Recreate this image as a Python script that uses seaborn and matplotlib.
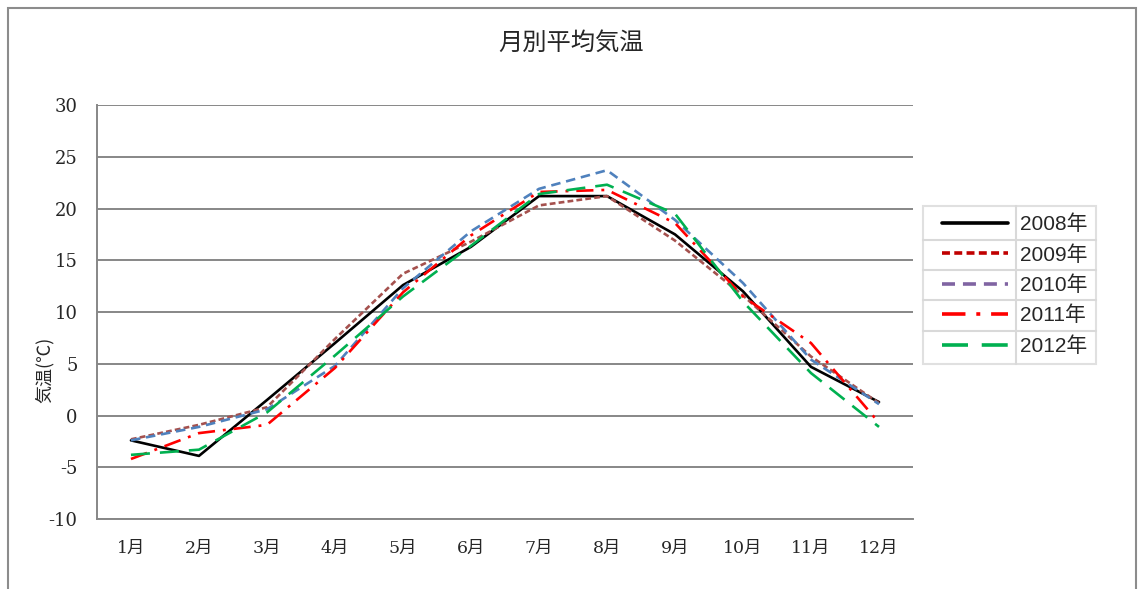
import numpy as np
import pandas as pd
import matplotlib
matplotlib.use('Agg')
import matplotlib.pyplot as plt
from matplotlib.lines import Line2D
from matplotlib.patches import Rectangle
from matplotlib.legend_handler import HandlerLine2D
import seaborn as sns

sns.set_style('white')
plt.rcParams['font.family'] = ['DejaVu Serif', 'Noto Sans CJK JP']
plt.rcParams['axes.unicode_minus'] = False

months = ['1月', '2月', '3月', '4月', '5月', '6月', '7月', '8月', '9月', '10月', '11月', '12月']
years = ['2008年', '2009年', '2010年', '2011年', '2012年']
t2008 = [-2.4, -3.9, 1.5, 7.0, 12.6, 16.3, 21.2, 21.2, 17.5, 12.0, 4.7, 1.3]
t2009 = [-2.3, -0.9, 0.8, 7.4, 13.7, 16.8, 20.3, 21.2, 16.9, 11.6, 5.7, 1.2]
t2010 = [-2.4, -1.1, 0.6, 4.8, 12.3, 17.8, 21.9, 23.7, 18.9, 12.8, 5.4, 1.1]
t2011 = [-4.2, -1.7, -0.9, 4.6, 11.9, 17.4, 21.6, 21.8, 18.6, 11.5, 7.0, -0.7]
t2012 = [-3.8, -3.3, 0.3, 5.8, 11.5, 16.4, 21.4, 22.3, 19.5, 11.0, 4.1, -1.1]

df = pd.DataFrame({
    'month': np.tile(np.arange(len(months)), len(years)),
    'temp': t2008 + t2009 + t2010 + t2011 + t2012,
    'year': np.repeat(years, len(months)),
})

line_colors = dict(zip(years, ['black', '#A5514E', '#4F81BD', '#FF0000', '#00B050']))
line_dashes = dict(zip(years, ['', (2.2, 1.2), (3.6, 2.2), (6.5, 3.0, 1.1, 3.0), (7.2, 3.8)]))
# legend swatches use different colours from the plotted lines (as in the original)
legend_colors = ['black', '#C00000', '#8064A2', '#FF0000', '#00B050']

fig = plt.figure(figsize=(11.38, 5.89), dpi=100)
ax = fig.add_axes([0.0852, 0.1188, 0.7171, 0.7029])

sns.lineplot(data=df, x='month', y='temp', hue='year', style='year',
             palette=line_colors, dashes=line_dashes, linewidth=1.9,
             legend=False, ax=ax)

ax.set_xlim(-0.5, 11.5)
ax.set_ylim(-10, 30)
ax.set_yticks(np.arange(-10, 31, 5))
ax.set_xticks(np.arange(len(months)))
ax.set_xticklabels(months)
ax.tick_params(axis='y', length=0, pad=14, labelsize=13)
ax.tick_params(axis='x', length=0, pad=15, labelsize=12.5)
ax.yaxis.grid(True, color='#878787', linewidth=1.4)
ax.xaxis.grid(False)
ax.set_axisbelow(True)
for s in ['top', 'right']:
    ax.spines[s].set_visible(False)
for s in ['left', 'bottom']:
    ax.spines[s].set_color('#878787')
    ax.spines[s].set_linewidth(1.4)

ax.set_xlabel('')
ax.set_ylabel('気温(℃)', family=['Noto Sans CJK JP'], fontsize=13)
ax.yaxis.set_label_coords(-0.053, 0.36)

fig.text(0.502, 0.927, '月別平均気温', ha='center', va='center',
         family=['Noto Sans CJK JP'], fontsize=17.5)

handles = []
for c, y in zip(legend_colors, years):
    if line_dashes[y]:
        handles.append(Line2D([], [], color=c, linewidth=2.6, dashes=line_dashes[y]))
    else:
        handles.append(Line2D([], [], color=c, linewidth=2.6))
leg = fig.legend(handles, years, loc='upper left', bbox_to_anchor=(0.811, 0.650),
                 frameon=True, fancybox=False, edgecolor='#D9D9D9',
                 prop={'family': ['Liberation Sans', 'Noto Sans CJK JP'], 'size': 15},
                 handlelength=3.7, handletextpad=0.55, labelspacing=0.52,
                 borderpad=0.4, borderaxespad=0,
                 handler_map={Line2D: HandlerLine2D(xpad=0.53)})
leg.get_frame().set_linewidth(1.5)

# cell dividers inside the legend box
fig.canvas.draw()
inv = fig.transFigure.inverted()
lb = inv.transform(leg.get_window_extent())
tb = [inv.transform(t.get_window_extent()) for t in leg.get_texts()]
xdiv = tb[0][0][0] - 0.003
fig.add_artist(Line2D([xdiv, xdiv], [lb[0][1], lb[1][1]], color='#D9D9D9', linewidth=1.5,
                      transform=fig.transFigure, zorder=6))
for a, b in zip(tb[:-1], tb[1:]):
    yy = (a[0][1] + b[1][1]) / 2
    fig.add_artist(Line2D([lb[0][0], lb[1][0]], [yy, yy], color='#D9D9D9', linewidth=1.5,
                          transform=fig.transFigure, zorder=6))

fig.add_artist(Rectangle((0.007, -0.05), 0.991, 0.0364 + 1.0, fill=False,
                         edgecolor='#8C8C8C', linewidth=1.5, transform=fig.transFigure))

fig.savefig('out.png', dpi=100)
